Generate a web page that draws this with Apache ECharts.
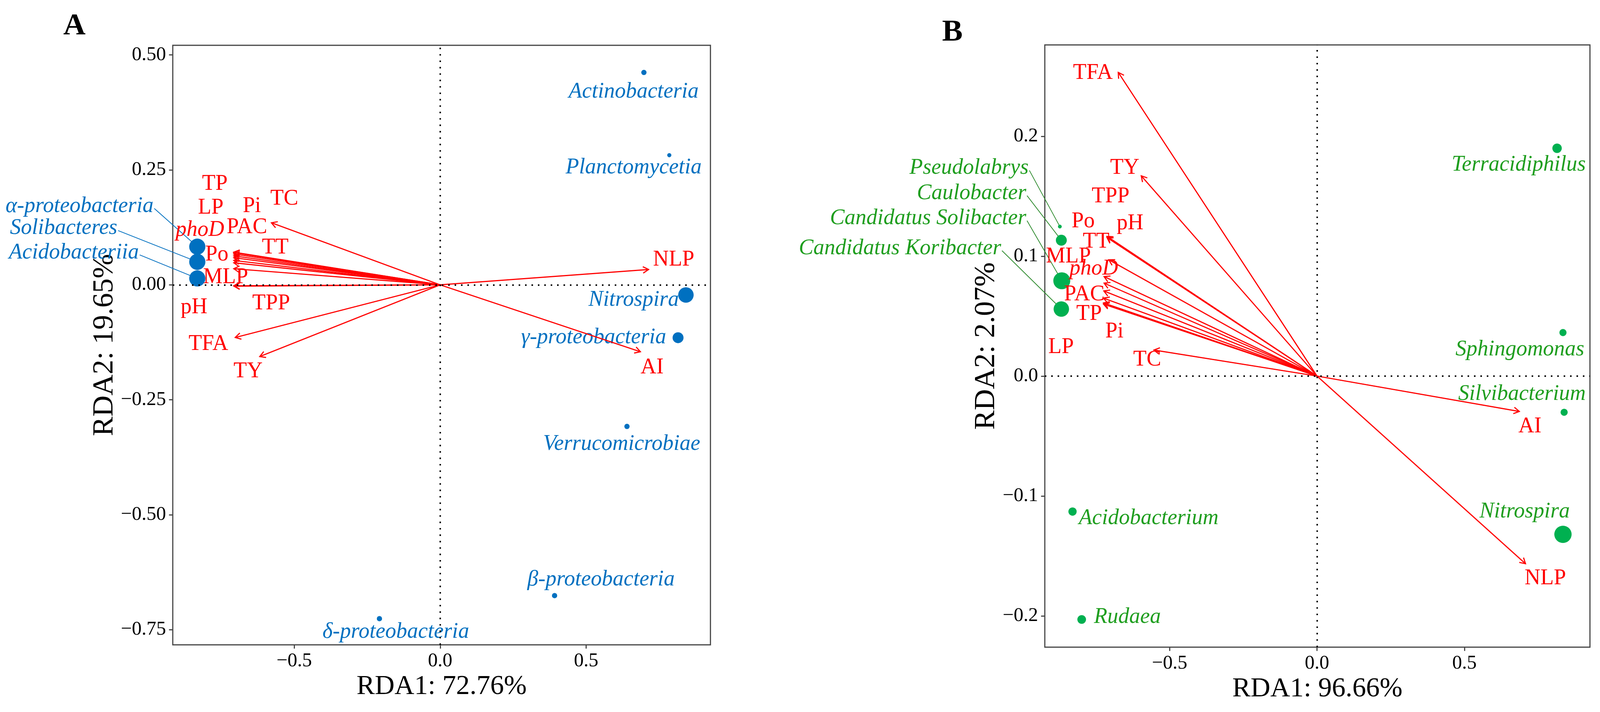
<!DOCTYPE html>
<html lang="en" style="height: 100%">
<head>
  <meta charset="utf-8">
  <style>
    html, body { margin: 0; padding: 0; width: 100%; height: 100%; overflow: hidden; background: #fff; }
  </style>
</head>
<body>
  <div id="container" style="height: 100%; width: 100%;"></div>
  <script src="https://cdn.jsdelivr.net/npm/echarts@6/dist/echarts.min.js"></script>
  <script>
    // ---- panel A: taxa (class level) ----
    const taxaA = ['Actinobacteria', 'Planctomycetia', 'Nitrospira', 'γ-proteobacteria', 'Verrucomicrobiae',
      'β-proteobacteria', 'δ-proteobacteria', 'α-proteobacteria', 'Solibacteres', 'Acidobacteriia'];
    const taxaAx = [0.698, 0.785, 0.842, 0.815, 0.640, 0.392, -0.208, -0.832, -0.832, -0.832];
    const taxaAy = [0.462, 0.282, -0.022, -0.115, -0.308, -0.676, -0.726, 0.083, 0.050, 0.014];
    const taxaAabund = [1.5, 0.75, 8.25, 5.25, 1.5, 1.5, 1.5, 8.75, 8.75, 8.75];
    const taxaAlabel = [[0.663, 0.420], [0.663, 0.2545], [0.663, -0.033], [0.526, -0.115], [0.622, -0.347],
      [0.551, -0.641], [-0.152, -0.755], [-0.982, 0.171], [-1.106, 0.123], [-1.032, 0.070]];
    const leadersA = ['α-proteobacteria', 'Solibacteres', 'Acidobacteriia'];

    // panel A: environmental vectors
    const envA = ['TP', 'LP', 'Pi', 'TC', 'phoD', 'PAC', 'TT', 'Po', 'MLP', 'pH', 'TPP', 'TFA', 'TY', 'NLP', 'AI'];
    const envAx = [-0.707, -0.707, -0.707, -0.578, -0.707, -0.707, -0.707, -0.707, -0.707, -0.707, -0.706, -0.702, -0.618, 0.714, 0.686];
    const envAy = [0.071, 0.070, 0.067, 0.135, 0.063, 0.059, 0.053, 0.048, 0.035, -0.002, -0.003, -0.1145, -0.156, 0.0334, -0.1456];
    const envAlabel = [[-0.772, 0.219], [-0.786, 0.167], [-0.645, 0.171], [-0.534, 0.187], [-0.823, 0.119],
      [-0.662, 0.125], [-0.565, 0.081], [-0.765, 0.065], [-0.735, 0.016], [-0.843, -0.049], [-0.579, -0.041],
      [-0.794, -0.129], [-0.658, -0.189], [0.800, 0.054], [0.726, -0.180]];

    // ---- panel B: taxa (genus level) ----
    const taxaB = ['Terracidiphilus', 'Sphingomonas', 'Silvibacterium', 'Nitrospira', 'Acidobacterium', 'Rudaea',
      'Pseudolabrys', 'Caulobacter', 'Candidatus Solibacter', 'Candidatus Koribacter'];
    const taxaBx = [0.814, 0.834, 0.838, 0.834, -0.829, -0.798, -0.872, -0.867, -0.8655, -0.867];
    const taxaBy = [0.190, 0.0363, -0.0302, -0.132, -0.113, -0.203, 0.1247, 0.1133, 0.0795, 0.0559];
    const taxaBabund = [4.25, 2.75, 2.75, 9.5, 3.5, 3.75, 0.5, 5.25, 9.25, 8.25];
    const taxaBlabel = [[0.684, 0.176], [0.688, 0.0219], [0.695, -0.0151], [0.704, -0.113], [-0.571, -0.1187],
      [-0.643, -0.201], [-0.978, 0.1734], [-0.986, 0.1524], [-0.986, 0.1315], [-1.071, 0.1065]];
    const leadersB = ['Pseudolabrys', 'Caulobacter', 'Candidatus Solibacter', 'Candidatus Koribacter'];

    // panel B: environmental vectors
    const envB = ['TFA', 'TY', 'TPP', 'pH', 'Po', 'TT', 'MLP', 'phoD', 'PAC', 'TP', 'Pi', 'LP', 'TC', 'AI', 'NLP'];
    const envBx = [-0.674, -0.596, -0.712, -0.712, -0.706, -0.712, -0.722, -0.722, -0.723, -0.724, -0.724, -0.724, -0.553, 0.686, 0.707];
    const envBy = [0.2533, 0.167, 0.1165, 0.116, 0.097, 0.1155, 0.083, 0.0775, 0.071, 0.065, 0.061, 0.060, 0.0217, -0.0295, -0.1565];
    const envBlabel = [[-0.760, 0.2526], [-0.652, 0.1734], [-0.700, 0.1497], [-0.634, 0.1274], [-0.793, 0.1288],
      [-0.749, 0.1119], [-0.843, 0.0997], [-0.757, 0.0896], [-0.789, 0.068], [-0.773, 0.0518], [-0.687, 0.0369],
      [-0.868, 0.0241], [-0.576, 0.0134], [0.722, -0.042], [0.774, -0.169]];

    const FONT = '"Liberation Serif", "Times New Roman", serif';
    const RED = '#ff0000';
    const italicEnv = ['phoD'];

    const dom = document.getElementById('container');
    const myChart = echarts.init(dom, null, { renderer: 'canvas' });

    // layout was measured on a 4297 x 1823 figure; scale to the real canvas
    const SX = myChart.getWidth() / 4297;
    const SY = myChart.getHeight() / 1823;
    const F = (SX + SY) / 2 - 0.012;
    const px = v => v * SX;
    const py = v => v * SY;
    const fz = v => Math.round(v * F);

    function signed(d) {
      return function (v) {
        const s = Math.abs(v).toFixed(d);
        return v < 0 ? '\u2212' + s : s;
      };
    }

    function zip(xs, ys, extra) {
      return xs.map((x, i) => extra ? [x, ys[i], extra[i]] : [x, ys[i]]);
    }

    // arrow from origin with open head
    function arrowRender(params, api) {
      const o = api.coord([0, 0]);
      const e = api.coord([api.value(0), api.value(1)]);
      const ang = Math.atan2(e[1] - o[1], e[0] - o[0]);
      const L = 17 * F, w = Math.PI / 6;
      const h1 = [e[0] - L * Math.cos(ang - w), e[1] - L * Math.sin(ang - w)];
      const h2 = [e[0] - L * Math.cos(ang + w), e[1] - L * Math.sin(ang + w)];
      return {
        type: 'group',
        children: [
          { type: 'line', shape: { x1: o[0], y1: o[1], x2: e[0], y2: e[1] }, style: { stroke: RED, lineWidth: 3 * F } },
          { type: 'polyline', shape: { points: [h1, e, h2] }, style: { stroke: RED, lineWidth: 3 * F, fill: 'none' } }
        ]
      };
    }

    function envLabelRender(names) {
      return function (params, api) {
        const p = api.coord([api.value(0), api.value(1)]);
        const name = names[params.dataIndex];
        const it = italicEnv.indexOf(name) >= 0 ? 'italic ' : '';
        return {
          type: 'text', x: p[0], y: p[1],
          style: { text: name, fill: RED, font: it + fz(58) + 'px ' + FONT, align: 'center', verticalAlign: 'middle' }
        };
      };
    }

    function taxaLabelRender(names, ptx, pty, leaders, color, lineColor) {
      return function (params, api) {
        const i = params.dataIndex;
        const p = api.coord([api.value(0), api.value(1)]);
        const name = names[i];
        const lead = leaders.indexOf(name) >= 0;
        const children = [{
          type: 'text', x: p[0], y: p[1],
          style: { text: name, fill: color, font: 'italic ' + fz(58) + 'px ' + FONT, align: lead ? 'right' : 'center', verticalAlign: 'middle' }
        }];
        if (lead) {
          const q = api.coord([ptx[i], pty[i]]);
          children.unshift({
            type: 'line', shape: { x1: p[0] + 2, y1: p[1] + 6 * F, x2: q[0], y2: q[1] },
            style: { stroke: lineColor, lineWidth: 2 * F }
          });
        }
        return { type: 'group', children: children };
      };
    }

    function valueAxis(idx, min, max, ticks, digits, name, gap, nameSize) {
      return {
        gridIndex: idx, type: 'value', min: min, max: max,
        name: name, nameLocation: 'middle', nameGap: gap,
        nameTextStyle: { fontSize: fz(nameSize), fontFamily: FONT, color: '#000' },
        axisLine: { show: false, onZero: false },
        splitLine: { show: false },
        axisTick: { show: true, length: 10 * F, lineStyle: { color: '#444', width: 3 * F }, customValues: ticks },
        axisLabel: { customValues: ticks, formatter: signed(digits), fontSize: fz(52), fontFamily: FONT, color: '#000', margin: 18 * F }
      };
    }

    const zeroLines = {
      silent: true, symbol: ['none', 'none'],
      label: { show: false },
      lineStyle: { type: [4 * F, 13 * F], color: '#000', width: 4 * F },
      data: [{ xAxis: 0 }, { yAxis: 0 }]
    };

    const option = {
      animation: false,
      backgroundColor: '#fff',
      grid: [
        { left: px(464), top: py(116), width: px(1444), height: py(1535), show: true, borderColor: '#444', borderWidth: 3 * F },
        { left: px(2806), top: py(115), width: px(1464), height: py(1542), show: true, borderColor: '#444', borderWidth: 3 * F }
      ],
      xAxis: [
        valueAxis(0, -0.916, 0.926, [-0.5, 0, 0.5], 1, 'RDA1: 72.76%', py(72), 73),
        valueAxis(1, -0.923, 0.9255, [-0.5, 0, 0.5], 1, 'RDA1: 96.66%', py(72), 73)
      ],
      yAxis: [
        valueAxis(0, -0.783, 0.521, [-0.75, -0.5, -0.25, 0, 0.25, 0.5], 2, 'RDA2: 19.65%', px(140), 78),
        valueAxis(1, -0.2261, 0.2762, [-0.2, -0.1, 0, 0.1, 0.2], 1, 'RDA2: 2.07%', px(114), 78)
      ],
      graphic: [
        { type: 'text', left: px(170), top: py(28), style: { text: 'A', font: 'bold ' + fz(82) + 'px ' + FONT, fill: '#000' } },
        { type: 'text', left: px(2530), top: py(44), style: { text: 'B', font: 'bold ' + fz(82) + 'px ' + FONT, fill: '#000' } }
      ],
      series: [
        // panel A
        { type: 'scatter', xAxisIndex: 0, yAxisIndex: 0, data: [], z: 1, markLine: zeroLines },
        {
          type: 'custom', xAxisIndex: 0, yAxisIndex: 0, z: 2, silent: true,
          data: taxaAlabel, renderItem: taxaLabelRender(taxaA, taxaAx, taxaAy, leadersA, '#0070C0', '#0070C0')
        },
        { type: 'custom', xAxisIndex: 0, yAxisIndex: 0, z: 3, silent: true, data: zip(envAx, envAy), renderItem: arrowRender },
        {
          type: 'scatter', xAxisIndex: 0, yAxisIndex: 0, z: 4, silent: true,
          data: zip(taxaAx, taxaAy, taxaAabund),
          symbolSize: v => (8 + 4 * v[2]) * F,
          itemStyle: { color: '#0070C0', opacity: 1 }
        },
        { type: 'custom', xAxisIndex: 0, yAxisIndex: 0, z: 5, silent: true, data: envAlabel, renderItem: envLabelRender(envA) },

        // panel B
        { type: 'scatter', xAxisIndex: 1, yAxisIndex: 1, data: [], z: 1, markLine: zeroLines },
        {
          type: 'custom', xAxisIndex: 1, yAxisIndex: 1, z: 2, silent: true,
          data: taxaBlabel, renderItem: taxaLabelRender(taxaB, taxaBx, taxaBy, leadersB, '#1f9e1f', '#2e8b2e')
        },
        { type: 'custom', xAxisIndex: 1, yAxisIndex: 1, z: 3, silent: true, data: zip(envBx, envBy), renderItem: arrowRender },
        {
          type: 'scatter', xAxisIndex: 1, yAxisIndex: 1, z: 4, silent: true,
          data: zip(taxaBx, taxaBy, taxaBabund),
          symbolSize: v => (8 + 4 * v[2]) * F,
          itemStyle: { color: '#00B050', opacity: 1 }
        },
        { type: 'custom', xAxisIndex: 1, yAxisIndex: 1, z: 5, silent: true, data: envBlabel, renderItem: envLabelRender(envB) }
      ]
    };

    myChart.setOption(option);
    window.addEventListener('resize', myChart.resize);
  </script>
</body>
</html>
